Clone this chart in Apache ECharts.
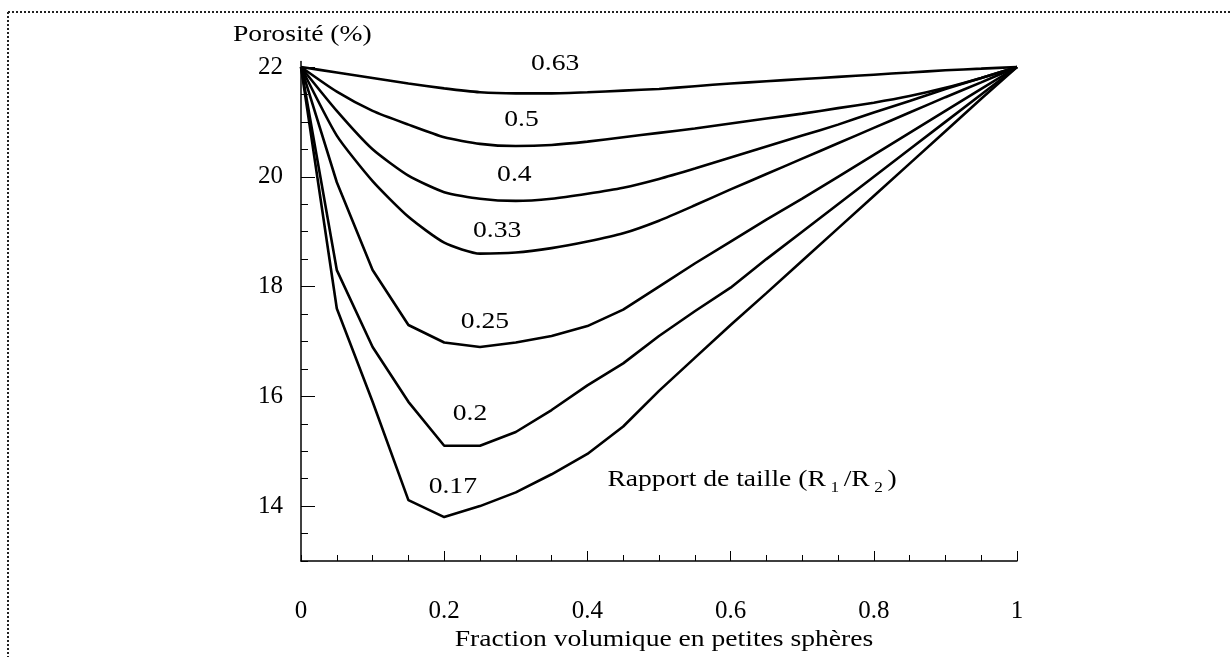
<!DOCTYPE html>
<html>
<head>
<meta charset="utf-8">
<script src="https://cdn.jsdelivr.net/npm/echarts@6/dist/echarts.min.js"></script>
<style>
  html, body { margin: 0; padding: 0; background: #fff; }
  #main { width: 1231px; height: 657px; }
</style>
</head>
<body>
<div id="main"></div>
<script>
// volume fraction of small spheres (x axis)
var fractions = [0, 0.05, 0.1, 0.15, 0.2, 0.25, 0.3, 0.35, 0.4, 0.45, 0.5,
                 0.55, 0.6, 0.65, 0.7, 0.75, 0.8, 0.85, 0.9, 0.95, 1];

// size ratio R1/R2 of each curve
var ratios = ['0.63', '0.5', '0.4', '0.33', '0.25', '0.2', '0.17'];

// porosity (%), one array per ratio
var poro063 = [22, 21.9, 21.8, 21.7, 21.61, 21.54, 21.52, 21.52, 21.54, 21.57, 21.6,
               21.65, 21.7, 21.74, 21.78, 21.82, 21.86, 21.9, 21.94, 21.97, 22];
var poro05  = [22, 21.55, 21.2, 20.95, 20.72, 20.6, 20.56, 20.58, 20.64, 20.72, 20.8,
               20.88, 20.97, 21.06, 21.15, 21.25, 21.35, 21.47, 21.62, 21.8, 22];
var poro04  = [22, 21.2, 20.5, 20.02, 19.72, 19.6, 19.56, 19.6, 19.69, 19.8, 19.96,
               20.15, 20.35, 20.55, 20.75, 20.95, 21.17, 21.38, 21.6, 21.8, 22];
var poro033 = [22, 20.75, 19.92, 19.27, 18.8, 18.6, 18.62, 18.7, 18.82, 18.97, 19.2,
               19.48, 19.77, 20.05, 20.33, 20.61, 20.89, 21.17, 21.45, 21.72, 22];
var poro025 = [22, 19.9, 18.3, 17.3, 16.98, 16.9, 16.98, 17.1, 17.28, 17.58, 18.0,
               18.42, 18.82, 19.22, 19.6, 20.0, 20.4, 20.8, 21.2, 21.6, 22];
var poro02  = [22, 18.3, 16.9, 15.9, 15.1, 15.1, 15.35, 15.75, 16.2, 16.6, 17.1,
               17.55, 17.98, 18.5, 19.0, 19.5, 20.0, 20.5, 21.0, 21.5, 22];
var poro017 = [22, 17.6, 15.9, 14.11, 13.8, 14.0, 14.25, 14.58, 14.95, 15.45, 16.1,
               16.7, 17.3, 17.88, 18.47, 19.06, 19.65, 20.24, 20.83, 21.42, 22];

var curves = [poro063, poro05, poro04, poro033, poro025, poro02, poro017];

// tick labels
var xTickLabels = [0, 0.2, 0.4, 0.6, 0.8, 1];
var yTickLabels = [14, 16, 18, 20, 22];

// where each ratio label sits, in data coordinates
var labelAnchors = [[0.355, 22.06], [0.308, 21.035], [0.298, 20.03], [0.274, 19.02],
                    [0.257, 17.36], [0.236, 15.69], [0.212, 14.36]];

var FONT = '"Liberation Serif", "DejaVu Serif", serif';
var STRETCH = 1.15; // the scanned lettering is a little wider than Times

// small and big tick positions
var xMinorTicks = [], yMinorTicks = [];
for (var i = 0; i <= 20; i++) xMinorTicks.push(+(i * 0.05).toFixed(2));
for (var j = 0; j <= 18; j++) yMinorTicks.push(13 + j * 0.5);
var xMajorTicks = [0.2, 0.4, 0.6, 0.8, 1];

var myChart = echarts.init(document.getElementById('main'));

var series = curves.map(function (vals, k) {
  return {
    name: ratios[k],
    type: 'line',
    data: fractions.map(function (x, i) { return [x, vals[i]]; }),
    showSymbol: false,
    smooth: k < 4 ? 0.2 : false,
    lineStyle: { color: '#000', width: 2.6 },
    animation: false
  };
});

myChart.setOption({
  animation: false,
  grid: { left: 301, right: 214, top: 61.5, bottom: 96 },
  xAxis: [{
    type: 'value', min: 0, max: 1,
    axisLine: { lineStyle: { color: '#000', width: 1.5 } },
    axisTick: { inside: true, length: 6, customValues: xMinorTicks, lineStyle: { color: '#000' } },
    axisLabel: {
      customValues: xTickLabels, margin: 38, color: '#000',
      fontFamily: FONT, fontSize: 25,
      formatter: function (v) { return String(+v.toFixed(1)); }
    },
    splitLine: { show: false }
  }, {
    type: 'value', min: 0, max: 1, position: 'bottom',
    axisLine: { show: false },
    axisTick: { inside: true, length: 10, customValues: xMajorTicks, lineStyle: { color: '#000' } },
    axisLabel: { show: false },
    splitLine: { show: false }
  }],
  yAxis: [{
    type: 'value', min: 13, max: 22.1,
    axisLine: { show: true, lineStyle: { color: '#000', width: 1.5 } },
    axisTick: { show: true, inside: true, length: 7, customValues: yMinorTicks, lineStyle: { color: '#000' } },
    axisLabel: {
      customValues: yTickLabels, margin: 18, color: '#000',
      fontFamily: FONT, fontSize: 25
    },
    splitLine: { show: false }
  }, {
    type: 'value', min: 13, max: 22.1, position: 'left',
    axisLine: { show: false },
    axisTick: { show: true, inside: true, length: 14, customValues: yTickLabels, lineStyle: { color: '#000' } },
    axisLabel: { show: false },
    splitLine: { show: false }
  }],
  series: series
});

function label(text, x, y, align, extra) {
  var st = { text: text, fill: '#000', fontFamily: FONT, fontSize: 24,
             align: align || 'center', verticalAlign: 'middle' };
  if (extra) for (var key in extra) st[key] = extra[key];
  return { type: 'text', x: x, y: y, scaleX: STRETCH, style: st };
}

// frame and annotations, placed through the chart's own coordinate system
var graphics = [
  { type: 'line', shape: { x1: 8, y1: 12, x2: 1231, y2: 12 },
    style: { stroke: '#222', lineWidth: 2, lineDash: [2, 2] } },
  { type: 'line', shape: { x1: 8, y1: 12, x2: 8, y2: 657 },
    style: { stroke: '#222', lineWidth: 2, lineDash: [2, 2] } },
  label('Porosité (%)', 233, 35, 'left')
];

labelAnchors.forEach(function (p, k) {
  var px = myChart.convertToPixel({ gridIndex: 0 }, p);
  graphics.push(label(ratios[k], px[0], px[1]));
});

var rp = myChart.convertToPixel({ gridIndex: 0 }, [0.63, 14.48]);
graphics.push(label('Rapport de taille (R{sub|1}/R{sub|2})', rp[0], rp[1], 'center', {
  rich: {
    sub: { fontFamily: FONT, fontSize: 15, fill: '#000', verticalAlign: 'bottom',
           padding: [16, 4, 0, 4] }
  }
}));

var tp = myChart.convertToPixel({ gridIndex: 0 }, [0.5, 13]);
graphics.push(label('Fraction volumique en petites sphères', tp[0] + 5, 640));

myChart.setOption({ graphic: graphics });
</script>
</body>
</html>
